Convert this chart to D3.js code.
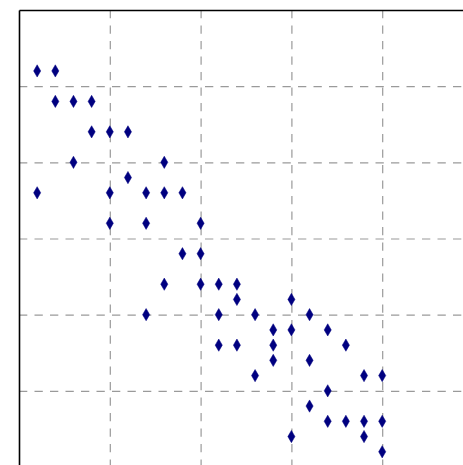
<!DOCTYPE html>
<html>
<head>
<meta charset="utf-8">
<script src="https://cdn.jsdelivr.net/npm/d3@7"></script>
<style>
  html, body { margin: 0; padding: 0; background: #fff; }
  svg { display: block; }
</style>
</head>
<body>
<svg id="chart" width="463" height="465"></svg>
<script>
// Scatter of paired values, drawn as thin diamonds
const xValues = [1, 2, 2, 3, 4, 4, 5, 6, 3, 8, 6, 1, 5, 7, 8, 9, 5, 7, 10,
  9, 10, 8, 10, 11, 12, 12, 15, 7, 11, 13, 16, 14, 15, 17, 11, 12, 14, 18,
  14, 16, 13, 19, 20, 17, 16, 17, 18, 19, 20, 15, 19, 20];
const yValues = [26, 26, 24, 24, 24, 22, 22, 22, 20, 20, 19, 18, 18, 18, 18, 18, 16, 16, 16,
  14, 14, 12, 12, 12, 12, 11, 11, 10, 10, 10, 10, 9, 9, 9, 8, 8, 8, 8,
  7, 7, 6, 6, 6, 5, 4, 3, 3, 3, 3, 2, 2, 1];
const xTicks = [0, 5, 10, 15, 20];
const yTicks = [5, 10, 15, 20, 25];
const xDomain = [0, 25];
const yDomain = [0, 30];

const svg = d3.select("#chart");
const margin = { left: 19, top: 10 };
const plotW = 454, plotH = 457;

const x = d3.scaleLinear().domain(xDomain).range([0, plotW]);
const y = d3.scaleLinear().domain(yDomain).range([plotH, 0]);

const g = svg.append("g").attr("transform", `translate(${margin.left},${margin.top})`);

// dashed grid
const gridStyle = sel => {
  sel.selectAll(".tick line")
    .attr("stroke", "#9a9a9a")
    .attr("stroke-width", 1.2)
    .attr("stroke-dasharray", "8.3,7.2");
  sel.selectAll(".tick text").remove();
  sel.select(".domain").remove();
};

g.append("g")
  .call(d3.axisTop(x).tickValues(xTicks.filter(v => v > 0)).tickSize(-plotH).tickFormat(""))
  .call(gridStyle);

g.append("g")
  .call(d3.axisLeft(y).tickValues(yTicks).tickSize(-plotW).tickFormat(""))
  .call(gridStyle);

// left and top spines
g.append("g")
  .call(d3.axisTop(x).tickValues([]).tickSizeOuter(0))
  .select(".domain").attr("stroke", "#000").attr("stroke-width", 1.6);
g.append("g")
  .call(d3.axisLeft(y).tickValues([]).tickSizeOuter(0))
  .select(".domain").attr("stroke", "#000").attr("stroke-width", 1.6);

// thin diamond marker
const thinDiamond = {
  draw(ctx, size) {
    const h = Math.sqrt(size) * 0.5;
    const w = h * 0.58;
    ctx.moveTo(0, -h);
    ctx.lineTo(w, 0);
    ctx.lineTo(0, h);
    ctx.lineTo(-w, 0);
    ctx.closePath();
  }
};
const points = xValues.map((v, i) => ({ x: v, y: yValues[i] }));

g.append("g")
  .selectAll("path")
  .data(points)
  .join("path")
  .attr("transform", d => `translate(${x(d.x)},${y(d.y)})`)
  .attr("d", d3.symbol(thinDiamond, 150))
  .attr("fill", "#000080")
  .attr("stroke", "#000080")
  .attr("stroke-width", 0.5);
</script>
</body>
</html>
